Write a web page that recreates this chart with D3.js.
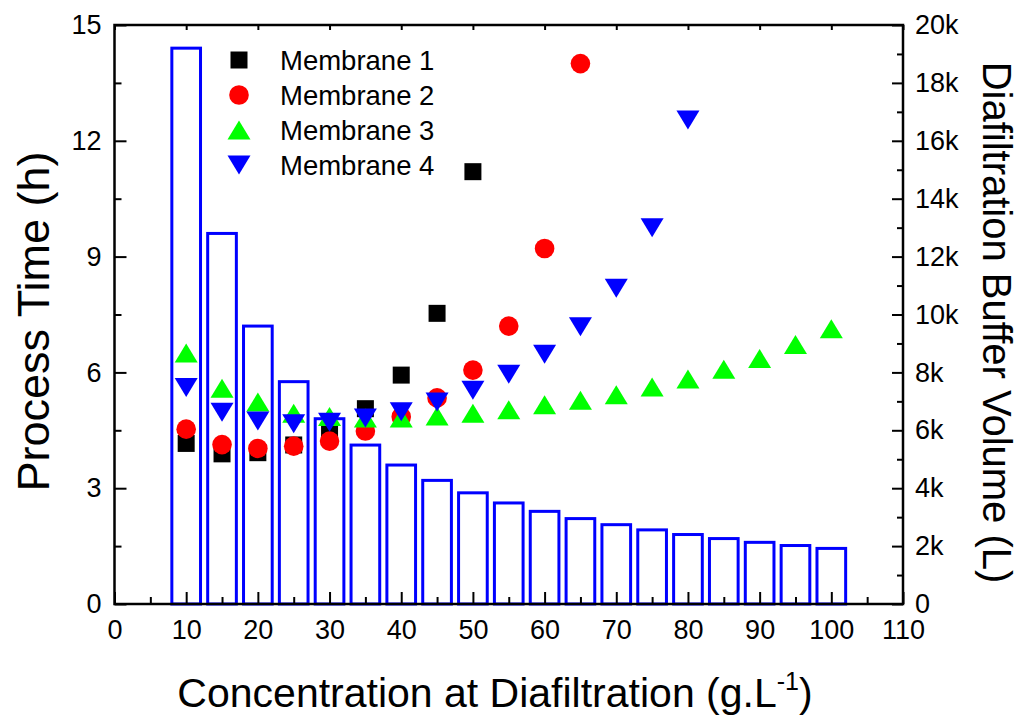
<!DOCTYPE html>
<html>
<head>
<meta charset="utf-8">
<script src="https://cdn.jsdelivr.net/npm/d3@7"></script>
<style>
  html, body { margin: 0; padding: 0; background: #fff; }
  svg { display: block; font-family: Arial, "Liberation Sans", sans-serif; }
</style>
</head>
<body>
<svg id="chart" width="1019" height="716"></svg>
<script>
// Diafiltration concentration (g/L) at which each bar / point sits
const concentration = [10, 15, 20, 25, 30, 35, 40, 45, 50, 55, 60, 65, 70, 75, 80, 85, 90, 95, 100];

// Diafiltration buffer volume (L), right axis
const bufferVolume = [19200, 12800, 9600, 7680, 6400, 5490, 4800, 4270, 3840, 3490,
                      3200, 2950, 2740, 2560, 2400, 2260, 2130, 2020, 1920];

// Process time (h) per membrane, left axis
const membrane1 = [4.16, 3.89, 3.92, 4.12, 4.45, 5.06, 5.93, 7.53, 11.2];
const membrane2 = [4.53, 4.13, 4.03, 4.09, 4.22, 4.48, 4.85, 5.34, 6.06, 7.2, 9.21, 14.0];
const membrane3 = [6.5, 5.59, 5.23, 4.94, 4.86, 4.82, 4.82, 4.87, 4.94, 5.03,
                   5.16, 5.28, 5.42, 5.62, 5.83, 6.08, 6.36, 6.72, 7.13];
const membrane4 = [5.61, 4.97, 4.74, 4.67, 4.71, 4.82, 4.98, 5.23, 5.54, 5.95,
                   6.47, 7.18, 8.18, 9.75, 12.54];

const seriesNames = ["Membrane 1", "Membrane 2", "Membrane 3", "Membrane 4"];
const seriesColors = ["#000000", "#ff0000", "#00ff00", "#0000ff"];
const seriesShapes = ["square", "circle", "triangleUp", "triangleDown"];

const xTicks = [0, 10, 20, 30, 40, 50, 60, 70, 80, 90, 100, 110];
const leftTicks = [0, 3, 6, 9, 12, 15];
const rightTicks = [0, 2000, 4000, 6000, 8000, 10000, 12000, 14000, 16000, 18000, 20000];

const series = [membrane1, membrane2, membrane3, membrane4].map((vals, i) => ({
  name: seriesNames[i],
  color: seriesColors[i],
  shape: seriesShapes[i],
  points: vals.map((v, j) => ({ x: concentration[j], y: v }))
}));

const svg = d3.select("#chart");
const plot = { left: 114.5, right: 903, top: 25, bottom: 604 };

const x = d3.scaleLinear().domain([0, 110]).range([plot.left, plot.right]);
const yL = d3.scaleLinear().domain([0, 15]).range([plot.bottom, plot.top]);
const yR = d3.scaleLinear().domain([0, 20000]).range([plot.bottom, plot.top]);

const barHalf = 2; // bars span concentration +/- 2 g/L
const tickFont = 27;

// marker shapes
function markerPath(shape) {
  if (shape === "square") return "M-8.5,-8.5H8.5V8.5H-8.5Z";
  if (shape === "circle") return d3.symbol(d3.symbolCircle, Math.PI * 9.8 * 9.8)();
  if (shape === "triangleUp") return "M0,-9.5L11.5,9.5L-11.5,9.5Z";
  return "M0,9.5L11.5,-9.5L-11.5,-9.5Z";
}

// buffer volume bars
svg.append("g")
  .selectAll("rect")
  .data(concentration.map((c, i) => ({ c, v: bufferVolume[i] })))
  .join("rect")
  .attr("x", d => x(d.c - barHalf))
  .attr("width", d => x(d.c + barHalf) - x(d.c - barHalf))
  .attr("y", d => yR(d.v))
  .attr("height", d => yR(0) - yR(d.v))
  .attr("fill", "none")
  .attr("stroke", "#0000ff")
  .attr("stroke-width", 3);

// scatter series
series.forEach(s => {
  svg.append("g")
    .selectAll("path")
    .data(s.points)
    .join("path")
    .attr("transform", d => `translate(${x(d.x)},${yL(d.y)})`)
    .attr("d", markerPath(s.shape))
    .attr("fill", s.color);
});

// axes with inward ticks
function styleAxis(g) {
  g.selectAll(".domain").remove();
  g.selectAll("line").attr("stroke", "#000").attr("stroke-width", 2);
  g.selectAll("text").attr("fill", "#000").attr("font-size", tickFont);
}

const minorX = d3.range(5, 110, 10);
const minorL = d3.range(1.5, 15, 3);
const minorR = d3.range(1000, 20000, 2000);

// bottom
svg.append("g").attr("transform", `translate(0,${plot.bottom})`)
  .call(d3.axisBottom(x).tickValues(xTicks).tickSizeInner(-12).tickSizeOuter(0).tickPadding(16))
  .call(styleAxis);
svg.append("g").attr("transform", `translate(0,${plot.bottom})`)
  .call(d3.axisBottom(x).tickValues(minorX).tickSizeInner(-7).tickSizeOuter(0).tickFormat(""))
  .call(styleAxis);
// top
svg.append("g").attr("transform", `translate(0,${plot.top})`)
  .call(d3.axisTop(x).tickValues(xTicks).tickSizeInner(-5).tickSizeOuter(0).tickFormat(""))
  .call(styleAxis);
// left
svg.append("g").attr("transform", `translate(${plot.left},0)`)
  .call(d3.axisLeft(yL).tickValues(leftTicks).tickSizeInner(-12).tickSizeOuter(0).tickPadding(13))
  .call(styleAxis);
svg.append("g").attr("transform", `translate(${plot.left},0)`)
  .call(d3.axisLeft(yL).tickValues(minorL).tickSizeInner(-7).tickSizeOuter(0).tickFormat(""))
  .call(styleAxis);
// right
svg.append("g").attr("transform", `translate(${plot.right},0)`)
  .call(d3.axisRight(yR).tickValues(rightTicks).tickSizeInner(-11).tickSizeOuter(0).tickPadding(12)
    .tickFormat(d => d === 0 ? "0" : (d / 1000) + "k"))
  .call(styleAxis);
svg.append("g").attr("transform", `translate(${plot.right},0)`)
  .call(d3.axisRight(yR).tickValues(minorR).tickSizeInner(-6).tickSizeOuter(0).tickFormat(""))
  .call(styleAxis);

// frame
svg.append("rect")
  .attr("x", plot.left).attr("y", plot.top)
  .attr("width", plot.right - plot.left).attr("height", plot.bottom - plot.top)
  .attr("fill", "none").attr("stroke", "#000").attr("stroke-width", 2.5);

// axis titles
svg.append("text")
  .attr("transform", `translate(49,${(plot.top + plot.bottom) / 2 + 7}) rotate(-90)`)
  .attr("text-anchor", "middle").attr("font-size", 45)
  .text("Process Time (h)");

svg.append("text")
  .attr("transform", `translate(983,${(plot.top + plot.bottom) / 2 + 8}) rotate(90)`)
  .attr("text-anchor", "middle").attr("font-size", 40)
  .text("Diafiltration Buffer Volume (L)");

const xTitle = svg.append("text")
  .attr("x", 495).attr("y", 707)
  .attr("text-anchor", "middle").attr("font-size", 41);
xTitle.append("tspan").text("Concentration at Diafiltration (g.L");
xTitle.append("tspan").attr("font-size", 25).attr("dy", -17).text("-1");
xTitle.append("tspan").attr("dy", 17).text(")");

// legend
const legend = svg.append("g");
series.forEach((s, i) => {
  const yPos = 60 + i * 35;
  legend.append("path")
    .attr("transform", `translate(239,${yPos})`)
    .attr("d", markerPath(s.shape))
    .attr("fill", s.color);
  legend.append("text")
    .attr("x", 280).attr("y", yPos).attr("dy", "0.35em")
    .attr("font-size", 27.5)
    .text(s.name);
});
</script>
</body>
</html>
